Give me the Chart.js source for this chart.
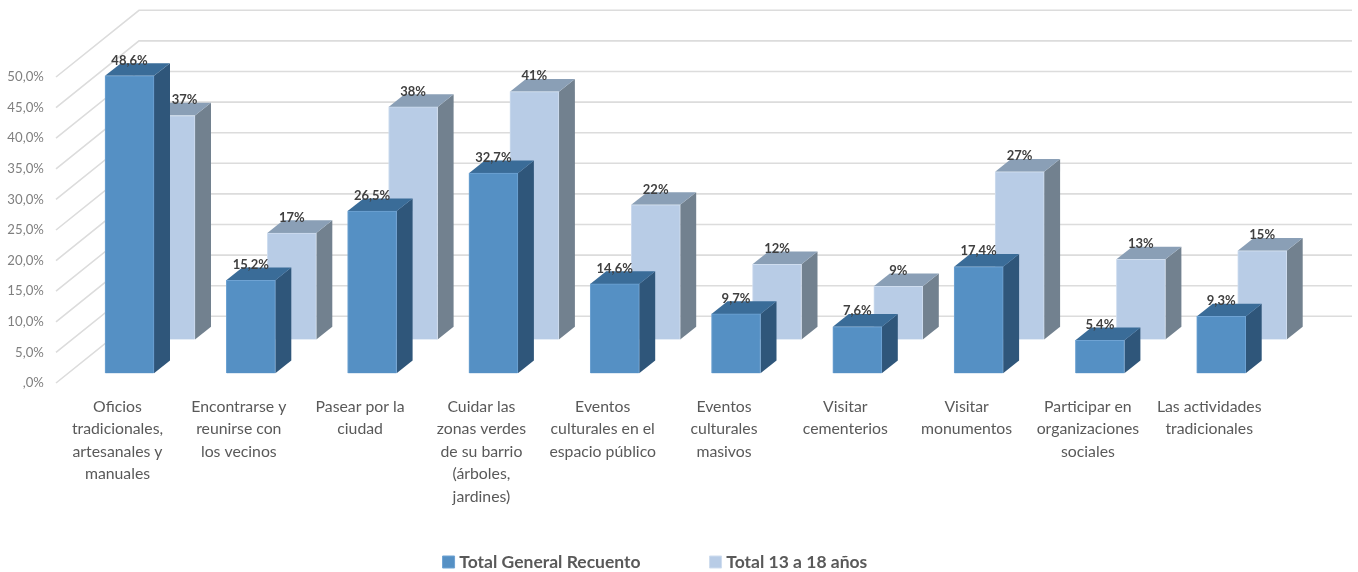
<!DOCTYPE html>
<html>
<head>
<meta charset="utf-8">
<title>Actividades</title>
<script src="https://cdn.jsdelivr.net/npm/chart.js@4"></script>
<style>
  html, body { margin: 0; padding: 0; background: #fff; }
  canvas { display: block; }
</style>
</head>
<body>
<canvas id="chart" width="1358" height="572"></canvas>
<script>
// Values
const categories = [
  ['Oficios', 'tradicionales,', 'artesanales y', 'manuales'],
  ['Encontrarse y', 'reunirse con', 'los vecinos'],
  ['Pasear por la', 'ciudad'],
  ['Cuidar las', 'zonas verdes', 'de su barrio', '(árboles,', 'jardines)'],
  ['Eventos', 'culturales en el', 'espacio público'],
  ['Eventos', 'culturales', 'masivos'],
  ['Visitar', 'cementerios'],
  ['Visitar', 'monumentos'],
  ['Participar en', 'organizaciones', 'sociales'],
  ['Las actividades', 'tradicionales']
];
const totalGeneral = [48.6, 15.2, 26.5, 32.7, 14.6, 9.7, 7.6, 17.4, 5.4, 9.3];
const total13a18 = [36.6, 17.4, 38.0, 40.5, 22.0, 12.3, 8.7, 27.4, 13.1, 14.5];
const seriesNames = ['Total General Recuento', 'Total 13 a 18 años'];

// Fake 3D settings (oblique projection, all in pixels)
const barDepth = { x: 16, y: 12.7 };
const rowShift = { x: 41, y: 33.8 };       // second row of bars sits further back
const wallFront = { x: 56, y: 9.7 };       // left end of the wall lines
const wallBack = { x: 139, y: 57 };        // corner where the back wall starts
const faces = [
  { side: '#2f567a', top: '#3a6c98' },
  { side: '#72818f', top: '#8a9fb6' }
];

function percentText(v, decimals) {
  const s = v.toFixed(decimals).replace('.', ',');
  return (v === 0 ? s.slice(1) : s) + '%';
}

const fake3d = {
  id: 'fake3d',
  afterLayout(chart) {
    // legend sits lower and further right than the layout would put it
    const l = chart.legend;
    const h = l.bottom - l.top;
    l.top = 562 - l.options.labels.padding - 8.75;
    l.bottom = l.top + h;
    l.left += 16;
    l.right += 16;
    // tick labels get clipped to the axis box, so let it run down to the legend
    chart.scales.x.bottom = 540;
  },
  beforeDatasetsDraw(chart) {
    const { ctx, chartArea, scales } = chart;
    ctx.save();
    ctx.strokeStyle = '#dcdcdc';
    ctx.lineWidth = 1.6;
    scales.y.ticks.forEach(t => {
      const y = scales.y.getPixelForValue(t.value);
      ctx.beginPath();
      ctx.moveTo(wallFront.x, y + wallFront.y);
      ctx.lineTo(wallBack.x, y - wallBack.y);
      ctx.lineTo(chartArea.right + wallBack.x - chartArea.left, y - wallBack.y);
      ctx.stroke();
    });
    ctx.restore();
  },
  beforeDatasetDraw(chart, args) {
    const { ctx } = chart;
    ctx.save();
    if (args.index === 1) ctx.translate(rowShift.x, -rowShift.y);
    const face = faces[args.index];
    args.meta.data.forEach(bar => {
      const r = bar.x + bar.width / 2;
      const l = bar.x - bar.width / 2;
      ctx.fillStyle = face.side;
      ctx.beginPath();
      ctx.moveTo(r, bar.y);
      ctx.lineTo(r + barDepth.x, bar.y - barDepth.y);
      ctx.lineTo(r + barDepth.x, bar.base - barDepth.y);
      ctx.lineTo(r, bar.base);
      ctx.closePath();
      ctx.fill();
      ctx.fillStyle = face.top;
      ctx.beginPath();
      ctx.moveTo(l, bar.y);
      ctx.lineTo(l + barDepth.x, bar.y - barDepth.y);
      ctx.lineTo(r + barDepth.x, bar.y - barDepth.y);
      ctx.lineTo(r, bar.y);
      ctx.closePath();
      ctx.fill();
    });
  },
  afterDatasetDraw(chart) {
    chart.ctx.restore();
  },
  afterDatasetsDraw(chart) {
    const { ctx } = chart;
    ctx.save();
    ctx.font = 'bold 13px Lato';
    ctx.fillStyle = '#404040';
    ctx.textAlign = 'center';
    ctx.textBaseline = 'middle';
    chart.data.datasets.forEach((ds, d) => {
      chart.getDatasetMeta(d).data.forEach((bar, i) => {
        let x = bar.x, y = bar.y - 15.5;
        if (d === 1) {
          x += rowShift.x;
          y -= rowShift.y;
          if (i === 0) x += 14; // first one is pushed out from behind the front bar
        }
        ctx.fillText(d === 0 ? percentText(ds.data[i], 1) : Math.round(ds.data[i]) + '%', x, y);
      });
    });
    ctx.restore();
  }
};

new Chart(document.getElementById('chart'), {
  type: 'bar',
  data: {
    labels: categories,
    datasets: [
      { label: seriesNames[0], data: totalGeneral, backgroundColor: '#5590c4', borderColor: '#6fa3d3', borderWidth: 1 },
      { label: seriesNames[1], data: total13a18, backgroundColor: '#b8cce6', borderColor: '#cfddef', borderWidth: 1 }
    ]
  },
  plugins: [fake3d],
  options: {
    responsive: false,
    animation: false,
    layout: { autoPadding: false, padding: { top: 67.3, right: 76.15, left: 0, bottom: 0 } },
    datasets: { bar: { grouped: false, barThickness: 49, clip: false } },
    scales: {
      x: {
        grid: { display: false, drawTicks: false },
        border: { display: false },
        ticks: {
          autoSkip: false,
          maxRotation: 0,
          padding: 22,
          labelOffset: -12,
          color: '#595959',
          font: { family: 'Lato', size: 15.8, lineHeight: 1.43 }
        },
        afterFit(scale) { scale.height = 572 - 373.3 - scale.chart.legend.height; }
      },
      y: {
        min: 0,
        max: 50,
        grid: { display: false, drawTicks: false },
        border: { display: false },
        ticks: {
          stepSize: 5,
          padding: 25,
          labelOffset: 9.7,
          color: '#7f7f7f',
          font: { family: 'Lato', size: 13.2 },
          callback: v => percentText(v, 1)
        },
        afterFit(scale) { scale.width = 68.85; }
      }
    },
    plugins: {
      title: { display: false },
      tooltip: { enabled: false },
      legend: {
        position: 'bottom',
        labels: {
          // point style keeps the square close to its text
          usePointStyle: true,
          pointStyle: 'rect',
          boxWidth: 4,
          boxHeight: 12,
          padding: 73,
          color: '#595959',
          font: { family: 'Lato', size: 17.5, weight: 'bold' }
        }
      }
    }
  }
});
</script>
</body>
</html>
